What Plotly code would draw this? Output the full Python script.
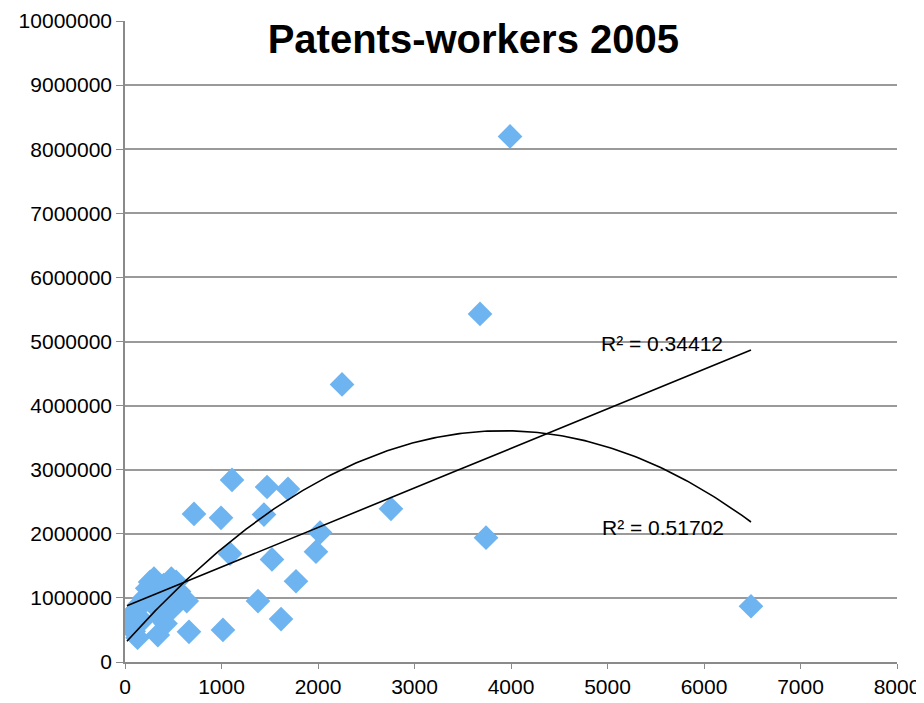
import numpy as np
import plotly.graph_objects as go

# patents (x) vs workers (y)
patents = [
    20, 40, 60, 90, 110, 130, 150, 180, 200, 230, 260, 280, 300, 320, 340,
    360, 400, 420, 450, 480, 500, 530, 560, 600, 640,
    663, 715, 995, 1015, 1088, 1109, 1378, 1440, 1472, 1523, 1617, 1689,
    1772, 1979, 2021, 2249, 2756, 3679, 3741, 3990, 6487,
]
workers = [
    620000, 700000, 550000, 480000, 800000, 380000, 900000, 650000, 1000000,
    1150000, 1250000, 1050000, 1300000, 850000, 420000, 700000, 1200000,
    600000, 1000000, 1300000, 850000, 1250000, 1100000, 1000000, 950000,
    470000, 2310000, 2250000, 500000, 1690000, 2840000, 950000, 2300000,
    2730000, 1600000, 670000, 2700000, 1260000, 1720000, 2020000, 4330000,
    2390000, 5430000, 1940000, 8200000, 870000,
]
r2_labels = ["R² = 0.34412", "R² = 0.51702"]

x = np.array(patents, dtype=float)
y = np.array(workers, dtype=float)

# Excel-style trendlines: linear and 2nd order polynomial
xs = np.linspace(x.min(), x.max(), 200)
lin = np.polyval(np.polyfit(x, y, 1), xs)
quad = np.polyval(np.polyfit(x, y, 2), xs)

fig = go.Figure()
fig.add_trace(go.Scatter(
    x=x, y=y, mode="markers",
    marker=dict(symbol="diamond", size=19, color="rgb(110,180,240)",
                line=dict(width=0)),
    showlegend=False,
))
fig.add_trace(go.Scatter(x=xs, y=lin, mode="lines",
                         line=dict(color="black", width=1.6), showlegend=False))
fig.add_trace(go.Scatter(x=xs, y=quad, mode="lines",
                         line=dict(color="black", width=1.6), showlegend=False))

fig.add_annotation(x=5560, y=4970000, text=r2_labels[0], showarrow=False,
                   font=dict(size=21, color="black"))
fig.add_annotation(x=5580, y=2100000, text=r2_labels[1], showarrow=False,
                   font=dict(size=21, color="black"))

fig.update_layout(
    width=916, height=695,
    paper_bgcolor="white", plot_bgcolor="white",
    margin=dict(l=117, r=27, t=13, b=41),
    font=dict(family="Liberation Sans, Arial, sans-serif", size=21, color="black"),
    title=dict(text="<b>Patents-workers 2005</b>", x=0.508, xanchor="center",
               y=0.955, yanchor="middle", font=dict(size=40, color="black")),
    xaxis=dict(range=[0, 8000], dtick=1000, showgrid=False, zeroline=False,
               showline=True, linecolor="#8a8a8a", linewidth=1.5,
               ticks="outside", ticklen=5, tickcolor="#8a8a8a",
               tickfont=dict(size=21), automargin=False),
    yaxis=dict(range=[0, 10000000], dtick=1000000, tickformat="d",
               showgrid=True, gridcolor="#9a9a9a", gridwidth=1.5,
               zeroline=False, showline=True, linecolor="#8a8a8a", linewidth=1.5,
               ticks="outside", ticklen=7, tickcolor="#8a8a8a",
               tickfont=dict(size=21), automargin=False),
)

fig.write_html("out.html")
